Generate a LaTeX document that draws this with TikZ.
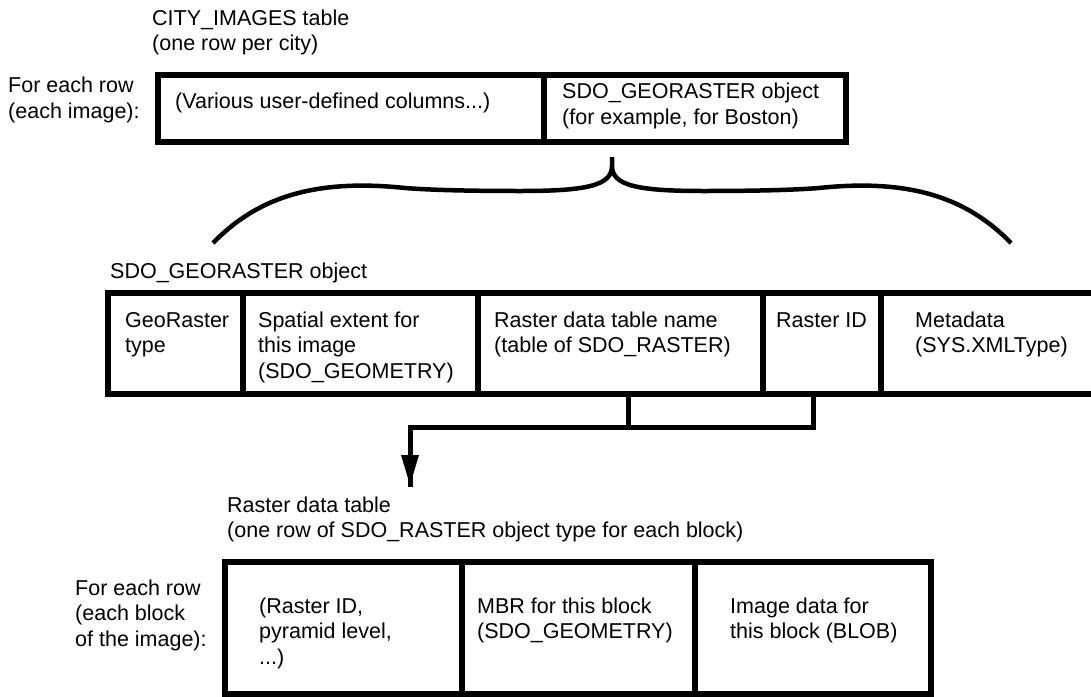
\documentclass[tikz,border=0pt]{standalone}
\usepackage{fontspec}
\setmainfont{Liberation Sans}
\usetikzlibrary{arrows.meta}
\begin{document}
\begin{tikzpicture}[x=1pt,y=-1pt,
  cell/.style={draw,line width=5.5pt,rectangle,anchor=north west,inner sep=0pt,outer sep=0pt},
  txt/.style={anchor=base west,align=left,inner sep=0pt,font=\fontsize{21.5}{25.5}\selectfont},
  conn/.style={line width=5pt,line join=miter},
  brace/.style={line width=4.5pt,line cap=butt,line join=round}]
\useasboundingbox (0,0) rectangle (1091,696);

% ---- top table
\node[txt] (ttitle) at (152,50.5) {CITY\_IMAGES table\\(one row per city)};
\node[txt] (trow) at (8,118) {For each row\\(each image):};
\node[cell,minimum width=386pt,minimum height=67pt] (tc1) at (158,75) {};
\node[cell,minimum width=302pt,minimum height=67pt] (tc2) at (544,75) {};
\node[txt] (tc1t) at (175,108) {(Various user-defined columns...)};
\node[txt] (tc2t) at (562,124) {SDO\_GEORASTER object\\(for example, for Boston)};

% ---- brace
\draw[brace] (612,157) -- (612,166)
  .. controls (612,186) and (585,191) .. (520,191)
  .. controls (470,191) and (430,190) .. (405,188)
  .. controls (310,178) and (255,200) .. (213,243);
\draw[brace] (612,166)
  .. controls (612,186) and (639,191) .. (704,191)
  .. controls (754,191) and (794,190) .. (819,188)
  .. controls (914,178) and (969,200) .. (1011,243);

% ---- middle object
\node[txt] (mtitle) at (110,278) {SDO\_GEORASTER object};
\node[cell,minimum width=135pt,minimum height=101pt] (m1) at (108,293) {};
\node[cell,minimum width=235pt,minimum height=101pt] (m2) at (243,293) {};
\node[cell,minimum width=285pt,minimum height=101pt] (m3) at (478,293) {};
\node[cell,minimum width=118pt,minimum height=101pt] (m4) at (763,293) {};
\node[cell,minimum width=259pt,minimum height=101pt] (m5) at (881,293) {};
\node[txt] (m1t) at (125,352.5) {GeoRaster\\type};
\node[txt] (m2t) at (258,378) {Spatial extent for\\this image\\(SDO\_GEOMETRY)};
\node[txt] (m3t) at (494,352.5) {Raster data table name\\(table of SDO\_RASTER)};
\node[txt] (m4t) at (776,327) {Raster ID};
\node[txt] (m5t) at (915,352.5) {Metadata\\(SYS.XMLType)};

% ---- connector
\coordinate (j) at (628,427);
\coordinate (k) at (813,427);
\coordinate (a) at (410,427);
\coordinate (tip) at (410,485);
\draw[conn] (m3.south -| j) -- (j);
\draw[conn] (m4.south -| k) -- (k) -- (a) -- ([yshift=-2pt]tip);
\draw[line width=0pt,-{Triangle[length=30pt,width=18pt]}] (410,480) -- (tip);

% ---- lower table
\node[txt] (ltitle) at (227,537.5) {Raster data table\\(one row of SDO\_RASTER object type for each block)};
\node[txt] (lrow) at (75,646) {For each row\\(each block\\of the image):};
\node[cell,minimum width=237pt,minimum height=132pt] (l1) at (225,562) {};
\node[cell,minimum width=233pt,minimum height=132pt] (l2) at (462,562) {};
\node[cell,minimum width=236pt,minimum height=132pt] (l3) at (695,562) {};
\node[txt] (l1t) at (259,664) {(Raster ID,\\pyramid level,\\...)};
\node[txt] (l2t) at (477,638.5) {MBR for this block\\(SDO\_GEOMETRY)};
\node[txt] (l3t) at (730,638.5) {Image data for\\this block (BLOB)};
\end{tikzpicture}
\end{document}
